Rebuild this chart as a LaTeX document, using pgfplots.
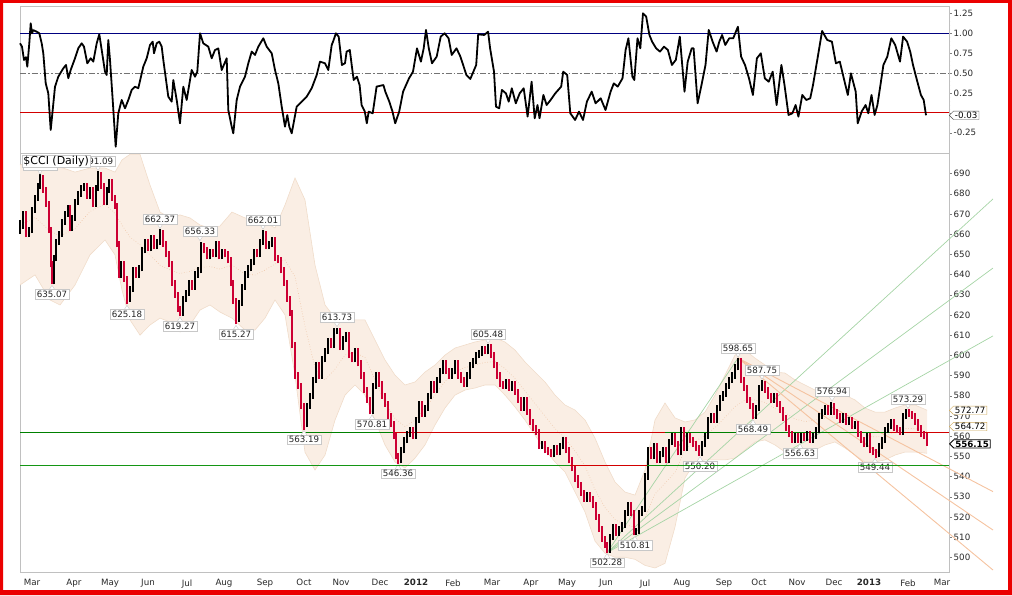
\documentclass[border=0pt]{standalone}
\usepackage{fontspec}
\setmainfont{DejaVu Sans}
\usepackage{pgfplots}
\pgfplotsset{compat=1.18}
\usepackage{pgfplotstable}
\usepgfplotslibrary{fillbetween}
\usetikzlibrary{shapes.symbols}

\definecolor{bord}{RGB}{235,0,0}
\definecolor{framec}{RGB}{192,192,192}
\definecolor{navyl}{RGB}{0,0,128}
\definecolor{redl}{RGB}{210,0,0}
\definecolor{greenl}{RGB}{0,128,0}
\definecolor{greenm}{RGB}{20,150,20}
\definecolor{bandfill}{RGB}{250,238,228}
\definecolor{bandedge}{RGB}{240,220,202}
\definecolor{bandmid}{RGB}{238,196,165}
\definecolor{barred}{RGB}{204,0,51}
\definecolor{fangreen}{RGB}{165,212,165}
\definecolor{fanorange}{RGB}{245,195,160}
\definecolor{labgray}{RGB}{200,200,200}
\definecolor{goldc}{RGB}{205,168,90}
\definecolor{tickc}{RGB}{40,40,40}

\newcommand\tl{\fontsize{8.7}{10}\selectfont}
\tikzset{
  lab/.style={rectangle, draw=labgray, fill=white, font=\tl, text=black!85,
    inner xsep=1.6pt, inner ysep=1.6pt},
  sig/.style={signal, signal to=west, fill=white, font=\tl, inner xsep=1.5pt, inner ysep=0.9pt}
}
\newcommand\hilab[3]{%
  \filldraw[draw=labgray, fill=white] ([xshift=-3pt,yshift=5.6pt]axis cs:#1,#2) -- ([yshift=0.8pt]axis cs:#1,#2) -- ([xshift=3pt,yshift=5.6pt]axis cs:#1,#2);
  \node[lab, anchor=south] at ([yshift=5pt]axis cs:#1,#2) {#3};}
\newcommand\lolab[3]{%
  \filldraw[draw=labgray, fill=white] ([xshift=-3pt,yshift=-5.6pt]axis cs:#1,#2) -- ([yshift=-0.8pt]axis cs:#1,#2) -- ([xshift=3pt,yshift=-5.6pt]axis cs:#1,#2);
  \node[lab, anchor=north] at ([yshift=-5pt]axis cs:#1,#2) {#3};}

% indicator (top panel)
\pgfplotstableread{
x v
20 0.874
22 0.832
24 0.665
26 0.70
27.3 0.58
29.3 0.874
30.7 1.126
32 1.0
33.3 1.04
36.7 1.02
39.3 1.0
41.7 0.874
43.3 0.749
45.7 0.372
48.3 0.246
50.7 -0.215
52.7 0.036
55 0.329
58.3 0.455
63.3 0.560
66 0.602
68.3 0.435
70.7 0.539
75 0.686
78.3 0.812
81.7 0.874
84 0.832
87.3 0.623
90.7 0.686
93.3 0.644
96.7 0.874
99.3 0.987
101.7 0.791
105 0.518
106.7 0.476
108.3 0.916
110 0.665
112.7 0.162
115.7 -0.425
118.3 -0.005
121.7 0.162
125 0.057
128.3 0.162
131.7 0.288
135 0.329
138.3 0.31
143.3 0.581
146.7 0.686
150 0.853
152.7 0.895
154 0.749
156.7 0.874
159.3 0.895
161.7 0.832
163.3 0.665
168.3 0.204
171.7 0.141
173.3 0.413
176.7 0.162
180 -0.131
183.3 0.329
186.7 0.162
191.7 0.539
195 0.455
197.3 0.518
200 1.0
203.3 0.874
208.3 0.832
211.7 0.686
215 0.79
218.3 0.81
221.7 0.539
226.7 0.686
228.3 0.036
231.7 -0.173
233.3 -0.257
236.7 0.162
240 0.329
245 0.455
248.3 0.623
251.7 0.77
255 0.728
258.3 0.832
263.3 0.937
266.7 0.832
271.7 0.749
275 0.539
278.3 0.372
281.7 0.079
285 -0.173
287.3 -0.027
289.3 -0.173
291.7 -0.257
296.7 0.079
301.7 0.141
306.7 0.204
311.7 0.31
316.7 0.476
320 0.644
325 0.623
328.3 0.539
331.7 0.853
333.2 0.9
335.9 1.0
338.7 0.958
341.9 0.602
345 0.623
346.6 0.77
349.8 0.79
351.7 0.602
353.7 0.413
356.9 0.455
359.6 0.35
361.6 0.099
364.8 0.016
366.8 -0.131
368.7 0.016
372.7 -0.005
376.6 0.33
383.4 0.35
385.3 0.267
389.3 0.141
392.5 0.016
395.2 -0.131
399.2 0.016
403.1 0.267
409 0.434
413 0.518
417 0.811
420.9 0.644
423.7 0.811
426 1.042
428.8 0.811
432 0.623
436.7 0.707
440.7 0.958
444.6 1.0
448.6 0.937
451.7 0.728
456.5 0.811
460.4 0.707
466.4 0.476
470.3 0.426
476.2 0.602
478.2 0.987
484.2 0.979
488.1 1.02
490.1 0.811
494 0.518
496 0.078
499.2 0.057
501.9 0.288
505.9 0.246
508.7 0.141
511.8 0.309
515.8 0.12
519.7 0.246
523.7 0.309
527.6 -0.047
531.6 0.392
534.7 -0.068
537.5 0.099
539.5 -0.068
543.4 0.225
546.6 0.099
550.6 0.162
555.3 0.246
561.2 0.33
563.2 0.518
567.2 0.476
570.3 -0.005
575.1 -0.089
579 0.016
583 -0.089
586.9 0.141
591.7 0.267
595.6 0.12
600.7 0.183
605.5 0.036
610.6 0.267
613.8 0.371
617.7 0.33
622.5 0.434
625.6 0.79
628.4 0.937
632.4 0.455
634.3 0.413
637.5 0.937
640.3 0.811
643 1.251
646.2 1.209
649.4 0.979
652.1 0.895
656.1 0.811
660 0.77
664 0.832
667.9 0.79
671.9 0.602
675.8 0.665
679.8 0.958
681.8 0.665
684.5 0.267
687.7 0.644
691.7 0.811
693.6 0.811
697.6 0.12
701.5 0.35
705.5 0.602
708.7 1.042
712.6 0.895
716.6 0.77
719.3 0.895
722.1 0.979
725.3 0.853
729.2 0.937
733.2 0.937
737.9 1.083
741.1 0.707
745 0.602
749 0.434
752.9 0.225
756.9 0.686
760.8 0.748
764.8 0.434
768.7 0.392
772.7 0.518
776.6 0.099
781.4 0.602
784.5 0.35
788.5 -0.026
792.4 -0.005
795.6 0.099
798.4 -0.047
802.3 0.225
806.3 0.162
810.2 0.183
813 0.35
818.1 0.728
822.1 1.029
827.2 0.916
831.9 0.895
835.9 0.623
839.8 0.644
843 0.476
847.8 0.225
850.9 0.497
855.7 0.267
857.7 -0.131
861.6 0.016
865.6 0.099
868.3 -0.005
871.5 0.225
874.6 -0.026
877.4 0.099
880.2 0.33
883.4 0.602
887.3 0.707
891.3 0.937
895.2 0.853
900 0.644
903.1 0.958
907.1 0.895
910.2 0.77
913 0.602
916.9 0.413
920.9 0.225
923.7 0.162
926 -0.03
}\indic

% price bands
\pgfplotstableread{
x u l
20 694.2 634.8
35 696.7 639.8
50 695.7 627.4
60 693.2 624.9
75 690.7 634.8
90 692.7 649.7
105 692.7 657.1
115 690.7 649.7
122 696.7 632.3
130 699.5 617.5
140 699.5 610.0
150 684.3 615.0
160 670.9 618.4
170 668.0 616.5
180 669.5 611.5
190 668.0 615.0
200 664.5 622.4
210 663.0 624.9
220 664.0 621.4
232 670.9 618.4
245 668.0 612.5
255 667.0 612.5
265 666.0 618.4
275 663.0 627.4
285 674.4 620.0
295 687.8 590.0
305 676.9 552.0
315 644.7 543.2
325 624.9 550.6
335 618.5 567.9
345 620.0 580.3
355 617.5 585.3
365 617.5 580.3
375 607.6 567.9
385 597.7 555.6
395 590.2 547.2
405 585.3 544.2
415 586.8 549.1
425 591.7 555.6
435 595.2 565.5
445 600.1 573.9
455 603.6 580.3
465 605.1 582.8
475 606.6 583.8
485 607.6 585.3
495 608.6 585.3
505 606.6 580.3
515 602.6 574.4
525 596.7 567.9
535 591.7 560.5
545 586.8 553.1
555 580.3 547.2
565 575.4 542.2
575 572.9 532.3
585 568.0 522.4
595 559.0 508.0
605 547.2 502.0
615 537.3 500.0
625 532.3 500.0
635 530.8 499.0
645 543.2 496.0
655 568.0 494.7
665 576.4 497.0
675 569.0 515.0
685 567.0 539.3
695 568.0 547.2
705 571.9 548.2
715 580.3 548.2
725 590.2 548.2
735 600.1 549.1
745 602.6 553.1
755 598.6 557.1
765 595.2 558.1
775 591.7 555.6
785 591.2 552.1
795 587.8 549.1
805 585.3 549.1
815 582.8 553.1
825 581.8 555.6
835 581.8 557.1
845 580.3 554.1
855 577.9 550.6
865 573.9 547.2
875 571.9 547.2
885 571.9 548.2
895 573.9 550.6
905 575.4 552.1
915 575.4 552.1
927 572.8 551.5
}\bands

% up bars (black)
\pgfplotstableread{
x lo hi
20 660 667
23 662.5 671.5
29 658.5 663.5
32 660.5 673.5
35 670.5 679.5
38 676.5 685.5
40 682.5 689.6
54 635.1 649.5
56 646.5 657.5
59 654.5 661.5
62 658.5 667.5
65 664.5 671.5
68 668.5 674.5
72 661.5 669.5
75 666.5 677.5
78 674.5 681.5
81 678.5 684.5
84 681.5 685.5
90 677.5 683.5
96 673.5 684.5
98 681.5 691.1
107 674.5 683.5
109 680.5 687.5
121 638.5 646.5
130 626.5 634.5
133 631.5 643.5
139 638.5 644.5
142 641.5 653.5
145 650.5 657.5
151 651.5 659.5
157 652.5 657.5
160 654.5 662.4
183 619.5 629.5
186 626.5 632.5
189 629.5 637.5
195 632.5 641.5
198 638.5 643.5
201 640.5 656.3
210 647.5 652.5
216 648.5 656.5
222 647.5 652.5
239 616.5 627.5
242 624.5 635.5
245 632.5 641.5
248 638.5 644.5
251 641.5 647.5
254 644.5 652.5
260 648.5 657.5
263 654.5 662.0
269 652.5 656.5
272 653.5 658.5
307 564.5 576.5
310 573.5 581.5
313 578.5 589.5
316 586.5 596.5
322 588.5 599.5
325 596.5 603.5
328 600.5 608.5
334 603.5 613.5
337 610.5 613.7
343 602.5 609.5
346 606.5 611.5
355 596.5 603.5
373 570.8 586.5
376 583.5 591.5
401 546.5 554.5
404 551.5 559.5
407 556.5 562.5
410 559.5 564.5
416 558.5 569.5
419 566.5 577.5
425 569.5 575.5
428 572.5 581.5
431 578.5 587.5
437 581.5 589.5
440 586.5 593.5
443 590.5 597.5
452 588.5 593.5
455 590.5 597.5
467 584.5 591.5
470 588.5 596.5
473 593.5 598.5
476 595.5 601.5
479 598.5 602.5
482 599.5 604.5
488 600.5 605.5
506 583.5 588.5
512 582.5 587.5
524 572.5 579.5
542 553.5 557.5
554 549.5 555.5
560 550.5 556.5
563 553.5 559.5
587 527.5 532.5
610 502.3 511.5
613 508.5 516.5
619 510.5 515.5
622 512.5 517.5
625 514.5 523.5
628 520.5 527.5
636 510.8 514.5
639 511.5 523.5
642 520.5 525.5
645 522.5 541.5
648 538.5 554.5
654 548.5 556.5
660 546.5 552.5
663 549.5 554.5
669 546.5 558.5
672 555.5 561.5
681 550.5 564.5
687 552.5 561.5
702 550.2 557.5
705 554.5 561.5
708 558.5 569.5
711 566.5 571.5
717 566.5 575.5
720 572.5 580.5
723 577.5 582.5
726 579.5 586.5
729 583.5 589.5
732 586.5 591.5
735 588.5 595.5
738 592.5 598.7
756 568.5 575.5
759 572.5 585.5
762 582.5 587.8
774 576.5 581.5
795 556.6 561.5
801 556.6 561.5
807 557.5 562.5
813 556.5 561.5
816 558.5 564.5
819 561.5 571.5
822 568.5 573.5
825 570.5 575.5
831 570.5 576.9
843 566.5 571.5
849 565.5 569.5
855 563.5 567.5
867 554.5 561.5
879 549.5 556.5
882 553.5 559.5
885 556.5 564.5
888 561.5 566.5
891 563.5 568.5
903 560.5 571.5
906 568.5 573.3
}\upbars

% down bars (red)
\pgfplotstableread{
x lo hi
26 658.5 671.5
43 680.5 689.5
46 673.5 683.5
49 660.5 676.5
51 643.5 663.5
52 635.1 646.5
70 661.5 674.5
87 677.5 685.5
93 673.5 683.5
101 682.5 690.5
104 674.5 685.5
112 676.5 687.5
115 672.5 679.5
117 653.5 675.5
119 638.5 656.5
124 636.5 646.5
127 625.2 639.5
136 638.5 643.5
148 651.5 657.5
154 652.5 659.5
163 653.5 662.0
166 648.5 656.5
169 643.5 651.5
172 634.5 646.5
175 628.5 637.5
178 621.5 631.5
180 619.3 624.5
192 632.5 637.5
204 650.5 655.5
207 647.5 653.5
213 648.5 652.5
219 647.5 656.5
225 648.5 652.5
228 645.5 651.5
231 634.5 648.5
233 625.5 637.5
236 615.3 628.5
257 648.5 652.5
266 652.5 661.5
275 646.5 658.5
278 645.5 649.5
281 640.5 648.5
284 634.5 643.5
287 626.5 637.5
290 619.5 629.5
292 603.5 622.5
295 588.5 606.5
298 583.5 591.5
301 573.5 586.5
304 563.2 576.5
319 588.5 596.5
331 603.5 608.5
340 602.5 613.5
349 598.5 611.5
352 596.5 601.5
358 594.5 603.5
361 588.5 597.5
364 581.5 591.5
367 576.5 584.5
370 570.8 579.5
379 584.5 591.5
382 578.5 587.5
385 574.5 581.5
388 568.5 577.5
391 564.5 571.5
394 558.5 567.5
396 548.5 561.5
398 546.4 551.5
413 558.5 564.5
422 569.5 577.5
434 581.5 587.5
446 590.5 597.5
449 588.5 593.5
458 588.5 597.5
461 586.5 591.5
464 584.5 589.5
485 600.5 604.5
491 598.5 605.5
494 593.5 601.5
497 588.5 596.5
500 584.5 591.5
503 583.5 587.5
509 582.5 588.5
515 580.5 587.5
518 576.5 583.5
521 572.5 579.5
527 570.5 579.5
530 565.5 573.5
533 562.5 568.5
536 560.5 565.5
539 553.5 563.5
545 551.5 557.5
548 550.5 554.5
551 549.5 553.5
557 550.5 555.5
566 551.5 559.5
569 546.5 554.5
572 542.5 549.5
575 537.5 545.5
578 534.5 540.5
581 530.5 537.5
584 527.5 533.5
590 527.5 532.5
593 524.5 530.5
596 518.5 527.5
599 512.5 521.5
602 507.5 515.5
605 504.5 510.5
607 502.3 507.5
616 510.5 516.5
631 520.5 527.5
634 510.8 523.5
651 548.5 554.5
657 546.5 556.5
666 546.5 554.5
675 554.5 561.5
678 550.5 557.5
684 552.5 564.5
690 556.5 561.5
693 554.5 559.5
696 552.5 557.5
699 550.2 555.5
714 566.5 571.5
741 586.5 598.5
744 582.5 589.5
747 576.5 585.5
750 573.5 579.5
753 568.5 576.5
765 581.5 587.5
768 578.5 584.5
771 576.5 581.5
777 574.5 581.5
780 571.5 577.5
783 567.5 574.5
786 562.5 570.5
789 559.5 565.5
792 556.6 562.5
798 556.6 561.5
804 557.5 561.5
810 556.6 562.5
828 570.5 575.5
834 570.5 576.5
837 568.5 573.5
840 566.5 571.5
846 565.5 571.5
852 563.5 569.5
858 559.5 567.5
861 556.5 562.5
864 554.5 559.5
870 551.5 561.5
873 550.5 554.5
876 549.4 553.5
894 562.5 568.5
897 561.5 565.5
900 560.5 564.5
909 569.5 573.3
912 568.5 572.5
915 565.5 571.5
918 562.5 568.5
921 559.5 565.5
924 558.5 562.5
927 555.0 561.5
}\downbars

\begin{document}
\begin{tikzpicture}[x=1pt,y=1pt]

% ---------------- top panel ----------------
\begin{axis}[
  at={(20pt,442pt)}, anchor=south west, scale only axis,
  width=929pt, height=147pt,
  xmin=20, xmax=949, ymin=-0.504, ymax=1.343,
  axis line style={draw=framec},
  xtick=\empty,
  ytick={-0.25,0,0.25,0.5,0.75,1,1.25},
  yticklabels={-0.25,{},0.25,0.50,0.75,1.00,1.25},
  ytick pos=right, yticklabel pos=right,
  tick align=outside, major tick length=2.5pt, minor tick length=1.3pt,
  minor y tick num=4,
  tick style={draw=gray},
  yticklabel style={font=\tl, text=tickc, inner sep=0pt, xshift=2pt},
  clip=false
]
\addplot[navyl, line width=0.8pt] coordinates {(20,1) (949,1)};
\addplot[gray!90!black, line width=0.6pt, dash pattern=on 6pt off 2pt on 1.5pt off 2pt] coordinates {(20,0.5) (949,0.5)};
\addplot[redl, line width=0.8pt] coordinates {(20,0) (949,0)};
\addplot[black, line width=1.8pt, line join=round] table[x=x,y=v] \indic;
\node[sig, draw=gray!60!black, anchor=west] at (axis cs:949,-0.03) {-0.03};
\end{axis}

% ---------------- price panel ----------------
\begin{axis}[
  at={(20pt,22.7pt)}, anchor=south west, scale only axis,
  width=929pt, height=419.3pt,
  xmin=20, xmax=949, ymin=492.57, ymax=700.15,
  axis line style={draw=framec},
  xtick={32,74,110,148,187,224,265,304,341,380,416,453,492,531,567,606,645,682,724,759,797,834,869,908,942},
  xticklabels={Mar,Apr,May,Jun,Jul,Aug,Sep,Oct,Nov,Dec,\textbf{2012},Feb,Mar,Apr,May,Jun,Jul,Aug,Sep,Oct,Nov,Dec,\textbf{2013},Feb,Mar},
  xtick pos=bottom, xtick style={draw=none},
  xticklabel style={font=\tl, text=tickc, anchor=north, inner sep=0pt, yshift=-4.5pt},
  ytick={500,510,...,690},
  yticklabels={500,510,520,530,540,550,560,570,580,590,600,610,620,630,640,650,660,670,680,690},
  ytick pos=right, yticklabel pos=right,
  tick align=outside, major tick length=2.5pt,
  ytick style={draw=gray},
  yticklabel style={font=\tl, text=tickc, inner sep=0pt, xshift=2pt},
  clip=false
]
% bands
\addplot[draw=none, name path=U, forget plot] table[x=x,y=u] \bands;
\addplot[draw=none, name path=L, forget plot] table[x=x,y=l] \bands;
\addplot[fill=bandfill, draw=none] fill between[of=U and L];
\addplot[bandedge, line width=0.6pt] table[x=x,y=u] \bands;
\addplot[bandedge, line width=0.6pt] table[x=x,y=l] \bands;
\addplot[bandmid, line width=0.6pt, dotted] table[x=x, y expr=(\thisrow{u}+\thisrow{l})/2] \bands;
% green fan from the 502.28 low
\addplot[fangreen, line width=0.7pt] coordinates {(607,502.28) (738,598.65)};
\addplot[fangreen, line width=0.7pt] coordinates {(607,502.28) (993,677.4)};
\addplot[fangreen, line width=0.7pt] coordinates {(607,502.28) (993,643.2)};
\addplot[fangreen, line width=0.7pt] coordinates {(607,502.28) (993,609.6)};
% orange fan from the 598.65 high
\addplot[fanorange, line width=0.9pt] coordinates {(738,598.65) (993,532.5)};
\addplot[fanorange, line width=0.9pt] coordinates {(738,598.65) (993,513.5)};
\addplot[fanorange, line width=0.9pt] coordinates {(738,598.65) (993,493.7)};
% horizontal levels
\addplot[greenl, line width=0.9pt] coordinates {(20,562.0) (949,562.0)};
\addplot[redl, line width=0.9pt] coordinates {(393,562.0) (665,562.0)};
\addplot[redl, line width=0.9pt] coordinates {(890,562.0) (949,562.0)};
\addplot[greenm, line width=1.2pt] coordinates {(20,545.5) (949,545.5)};
\addplot[redl, line width=1.2pt] coordinates {(570,545.5) (647,545.5)};
% price bars
\addplot[black, line width=1.6pt, line cap=butt, quiver={u=0, v=\thisrow{hi}-\thisrow{lo}}] table[x=x,y=lo] \upbars;
\addplot[barred, line width=1.6pt, line cap=butt, quiver={u=0, v=\thisrow{hi}-\thisrow{lo}}] table[x=x,y=lo] \downbars;
% annotations
\hilab{40}{689.3}{689.30}
\hilab{98}{691.09}{691.09}
\hilab{160}{662.37}{662.37}
\hilab{200}{656.33}{656.33}
\hilab{263}{662.01}{662.01}
\hilab{337}{613.73}{613.73}
\hilab{488}{605.48}{605.48}
\hilab{738}{598.65}{598.65}
\hilab{762}{587.75}{587.75}
\hilab{832}{576.94}{576.94}
\hilab{908}{573.29}{573.29}
\lolab{52}{635.07}{635.07}
\lolab{127}{625.18}{625.18}
\lolab{180}{619.27}{619.27}
\lolab{236}{615.27}{615.27}
\lolab{304}{563.19}{563.19}
\lolab{372}{570.81}{570.81}
\lolab{398}{546.36}{546.36}
\lolab{607}{502.28}{502.28}
\lolab{635}{510.81}{510.81}
\lolab{700}{550.20}{550.20}
\lolab{753}{568.49}{568.49}
\lolab{800}{556.63}{556.63}
\lolab{875}{549.44}{549.44}
\node[draw=labgray, fill=white, anchor=north west, inner xsep=1.5pt, inner ysep=0.4pt,
  font=\fontsize{11}{12}\selectfont] at ([xshift=1.7pt,yshift=-2.5pt]rel axis cs:0,1) {\$CCI (Daily)};
\node[sig, draw=goldc, anchor=west] at (axis cs:949,572.77) {572.77};
\node[sig, draw=goldc, anchor=west] at (axis cs:949,564.72) {564.72};
\node[sig, draw=black, line width=0.8pt, anchor=west, font=\tl\bfseries] at (axis cs:949,556.15) {556.15};
% lower support line as filled strips (on top of bars, as a stroke-free fill)
\fill[greenm] (axis cs:20,545.2) rectangle (axis cs:949,545.8);
\fill[redl] (axis cs:570,545.2) rectangle (axis cs:647,545.8);
\end{axis}

\fill[bord, even odd rule] (0,0) rectangle (1012,595) (3,5) rectangle (1008,592);
\pgfresetboundingbox
\useasboundingbox (0,0) rectangle (1012,595);
\end{tikzpicture}
\end{document}
